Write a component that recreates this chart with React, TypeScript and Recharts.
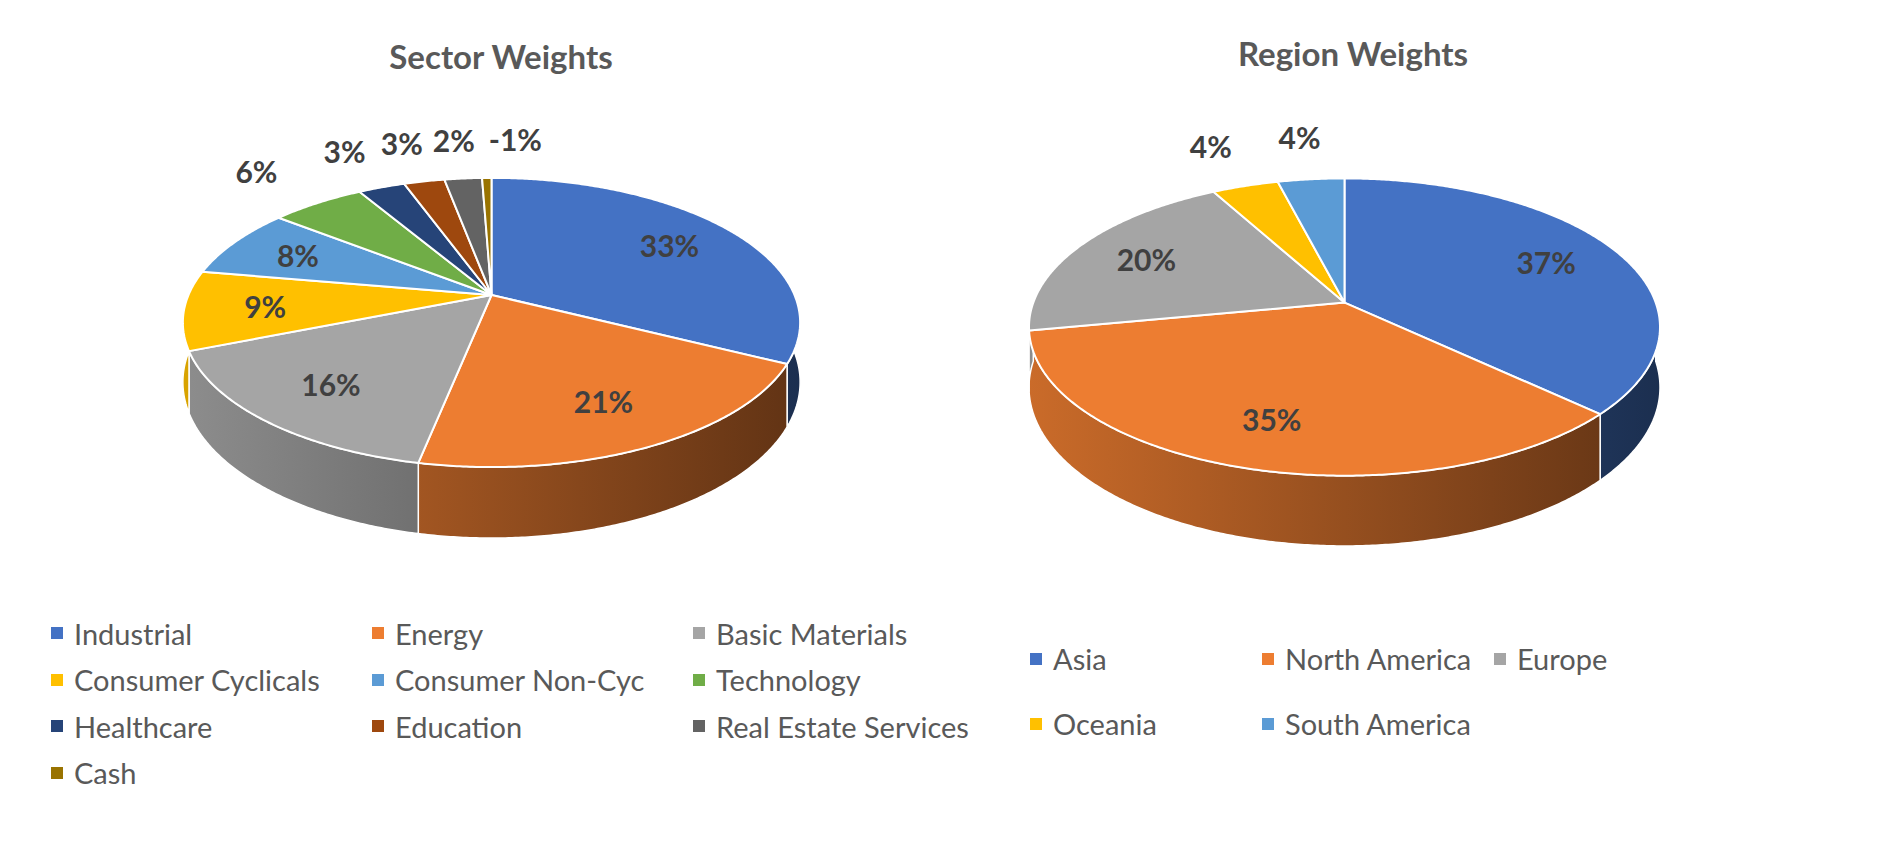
import { Cell, Legend, Pie, PieChart } from 'recharts';

const FONT = 'Lato, "Open Sans", sans-serif';

const SECTOR_NAMES = [
  'Industrial',
  'Energy',
  'Basic Materials',
  'Consumer Cyclicals',
  'Consumer Non-Cyc',
  'Technology',
  'Healthcare',
  'Education',
  'Real Estate Services',
  'Cash',
];
const SECTOR_VALUES = [33, 21, 16, 9, 8, 6, 3, 2.6, 2.4, -0.6];

const REGION_NAMES = ['Asia', 'North America', 'Europe', 'Oceania', 'South America'];
const REGION_VALUES = [37, 35, 20, 4, 4];

const SERIES_COLORS = [
  '#4472C4',
  '#ED7D31',
  '#A5A5A5',
  '#FFC000',
  '#5B9BD5',
  '#70AD47',
  '#264478',
  '#9E480E',
  '#636363',
  '#997300',
];

interface Row {
  name: string;
  value: number;
  size: number;
}

// Excel keeps negative weights as slices of their absolute size
const toRows = (names: string[], values: number[]): Row[] =>
  names.map((name, i) => ({ name, value: values[i], size: Math.abs(values[i]) }));

interface Solid {
  id: string;
  ratio: number; // vertical squash of the disc
  tilt: number; // perspective: the back is smaller than the front
  depth: number; // wall height
}

const RAD = Math.PI / 180;

function project(cx: number, cy: number, r: number, solid: Solid, deg: number, f = 1) {
  const u = f * Math.cos(deg * RAD);
  const v = f * Math.sin(deg * RAD);
  const s = 1 / (1 + solid.tilt * v);
  return { x: cx + r * u * s, y: cy - r * solid.ratio * v * s, s };
}

function rim(cx: number, cy: number, r: number, solid: Solid, from: number, to: number, drop = 0) {
  const n = Math.max(2, Math.ceil(Math.abs(to - from) / 0.5));
  const pts: string[] = [];
  for (let i = 0; i <= n; i++) {
    const p = project(cx, cy, r, solid, from + ((to - from) * i) / n);
    pts.push(`${p.x.toFixed(2)},${(p.y + drop * p.s).toFixed(2)}`);
  }
  return pts;
}

function shade(hex: string, k: number) {
  const n = parseInt(hex.slice(1), 16);
  const c = [(n >> 16) & 255, (n >> 8) & 255, n & 255].map((v) => Math.round(v * k));
  return `rgb(${c.join(',')})`;
}

// outer wall of each slice, only the front half can be seen
const makeWall = (solid: Solid) => (p: any) => {
  const { cx, cy, outerRadius: r, fill, index } = p;
  const hi = Math.min(Math.max(p.startAngle, p.endAngle), 0);
  const lo = Math.max(Math.min(p.startAngle, p.endAngle), -180);
  if (lo >= hi) return <g />;
  const top = rim(cx, cy, r, solid, hi, lo);
  const bottom = rim(cx, cy, r, solid, lo, hi, solid.depth);
  const gid = `${solid.id}-wall-${index}`;
  return (
    <g>
      <defs>
        <linearGradient id={gid} gradientUnits="userSpaceOnUse" x1={cx - r * 1.05} x2={cx + r * 1.05} y1={0} y2={0}>
          <stop offset="0" stopColor={shade(fill, 0.86)} />
          <stop offset="1" stopColor={shade(fill, 0.4)} />
        </linearGradient>
      </defs>
      <path
        d={`M${top.join(' L')} L${bottom.join(' L')} Z`}
        fill={`url(#${gid})`}
        stroke="#fff"
        strokeWidth={1.5}
        strokeLinejoin="round"
      />
    </g>
  );
};

const makeFace = (solid: Solid) => (p: any) => {
  const { cx, cy, outerRadius: r, fill } = p;
  const pts = rim(cx, cy, r, solid, p.startAngle, p.endAngle);
  return (
    <path
      d={`M${cx},${cy} L${pts.join(' L')} Z`}
      fill={fill}
      stroke="#fff"
      strokeWidth={2}
      strokeLinejoin="round"
    />
  );
};

const makeText = (solid: Solid) => {
  let lastRight = -Infinity;
  return (p: any) => {
    if (p.index === 0) lastRight = -Infinity;
    const outside = p.percent < 0.07;
    const pt = project(p.cx, p.cy, p.outerRadius, solid, p.midAngle, outside ? 1.42 : 0.74);
    const text = `${Math.round(p.payload.value)}%`;
    let x = pt.x;
    if (outside) {
      // small slices crowd at the top: push each label clear of the previous one
      const w = text.length * 19;
      if (x - w / 2 < lastRight + 14) x = lastRight + 14 + w / 2;
      lastRight = x + w / 2;
    }
    return (
      <text
        x={x}
        y={pt.y}
        textAnchor="middle"
        dominantBaseline="central"
        fill="#404040"
        fontFamily={FONT}
        fontWeight={700}
        fontSize={30}
      >
        {text}
      </text>
    );
  };
};

interface GridProps {
  names: string[];
  payload?: any[];
  left: number;
  top: number;
  colWidth: number;
  rowHeight: number;
}

function LegendGrid({ names, payload = [], left, top, colWidth, rowHeight }: GridProps) {
  // every pie layer reports its items; keep one per name, in data order
  const items = names.map((name, i) => {
    const hit = payload.find((p) => p.value === name && p.type !== 'none') ?? payload.find((p) => p.value === name);
    return { name, color: hit?.color ?? SERIES_COLORS[i] };
  });
  return (
    <div
      style={{
        position: 'absolute',
        left,
        top,
        display: 'grid',
        gridTemplateColumns: `repeat(3, ${colWidth}px)`,
        gridAutoRows: `${rowHeight}px`,
        alignItems: 'center',
      }}
    >
      {items.map((item) => (
        <div key={item.name} style={{ display: 'flex', alignItems: 'center', whiteSpace: 'nowrap' }}>
          <span style={{ width: 12, height: 12, background: item.color, marginRight: 11, flex: 'none' }} />
          <span style={{ fontFamily: FONT, fontSize: 29, color: '#595959' }}>{item.name}</span>
        </div>
      ))}
    </div>
  );
}

interface SolidPieProps {
  names: string[];
  values: number[];
  width: number;
  cx: number;
  cy: number;
  radius: number;
  solid: Solid;
  legend: Omit<GridProps, 'payload' | 'names'>;
}

function SolidPie({ names, values, width, cx, cy, radius, solid, legend }: SolidPieProps) {
  const rows = toRows(names, values);
  const cells = rows.map((row, i) => (
    <Cell key={row.name} fill={SERIES_COLORS[i]} fillOpacity={0} stroke="none" />
  ));
  const common = {
    data: rows,
    dataKey: 'size',
    nameKey: 'name',
    cx,
    cy,
    outerRadius: radius,
    startAngle: 90,
    endAngle: -270,
    stroke: 'none',
    labelLine: false,
    isAnimationActive: false,
  };
  return (
    <PieChart width={width} height={864} margin={{ top: 0, right: 0, bottom: 0, left: 0 }}>
      <Pie {...common} legendType="none" label={makeWall(solid)}>
        {cells}
      </Pie>
      <Pie {...common} label={makeFace(solid)}>
        {cells}
      </Pie>
      <Pie {...common} legendType="none" label={makeText(solid)}>
        {cells}
      </Pie>
      <Legend
        layout="horizontal"
        verticalAlign="middle"
        align="center"
        wrapperStyle={{ left: 0, top: 0, width, height: 864, pointerEvents: 'none' }}
        content={(props: any) => <LegendGrid names={names} payload={props.payload} {...legend} />}
      />
    </PieChart>
  );
}

const titleStyle = (cx: number, cy: number) => ({
  position: 'absolute' as const,
  left: cx - 250,
  top: cy - 22,
  width: 500,
  lineHeight: '44px',
  textAlign: 'center' as const,
  fontFamily: FONT,
  fontWeight: 700,
  fontSize: 33,
  color: '#595959',
});

export default function App() {
  return (
    <div
      style={{ position: 'absolute', left: 0, top: 0, width: 1885, height: 864, background: '#fff', overflow: 'hidden' }}
    >
      <div style={{ position: 'absolute', left: 0, top: 0 }}>
        <SolidPie
          names={SECTOR_NAMES}
          values={SECTOR_VALUES}
          width={942}
          cx={491.5}
          cy={295}
          radius={303}
          solid={{ id: 'sector', ratio: 0.46, tilt: 0.19, depth: 57.5 }}
          legend={{ left: 51, top: 610, colWidth: 321, rowHeight: 46.5 }}
        />
      </div>
      <div style={{ position: 'absolute', left: 942, top: 0 }}>
        <SolidPie
          names={REGION_NAMES}
          values={REGION_VALUES}
          width={943}
          cx={402.5}
          cy={302.6}
          radius={311.2}
          solid={{ id: 'region', ratio: 0.4647, tilt: 0.1645, depth: 58.7 }}
          legend={{ left: 88, top: 626, colWidth: 232, rowHeight: 65 }}
        />
      </div>
      <div style={titleStyle(501, 56)}>Sector Weights</div>
      <div style={titleStyle(1353, 53)}>Region Weights</div>
    </div>
  );
}
